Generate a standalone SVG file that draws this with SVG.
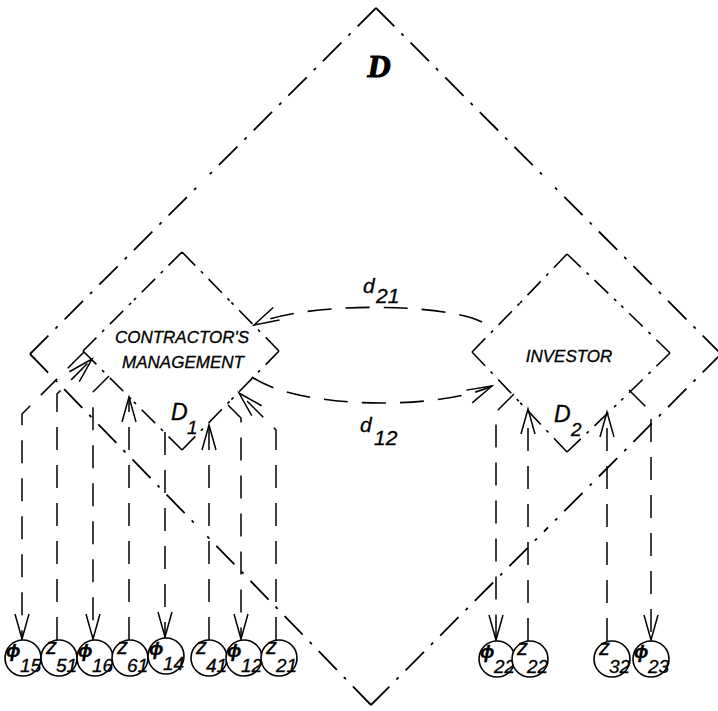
<svg xmlns="http://www.w3.org/2000/svg" width="718" height="711" viewBox="0 0 718 711">
<defs>
<style>
.big{fill:none;stroke:#000;stroke-width:1.8;stroke-dasharray:26 10 3 10;}
.dia{fill:none;stroke:#000;stroke-width:1.6;stroke-dasharray:19 8 3 8;}
.con{fill:none;stroke:#000;stroke-width:1.5;stroke-dasharray:23 15;marker-end:url(#ah);}
.cur{fill:none;stroke:#000;stroke-width:1.6;stroke-dasharray:24 14;marker-end:url(#ah);}
.nd{fill:#fff;stroke:#000;stroke-width:1.6;}
text{font-family:"Liberation Sans",Arial,"DejaVu Sans",sans-serif;font-style:italic;fill:#000;stroke:#000;stroke-width:0.3;}
.lab{font-size:17px;text-anchor:middle;}
.g{font-size:19px;font-weight:bold;}
.z{font-size:22px;}
.n{font-size:19px;}
.big-d{font-family:"Liberation Serif","Times New Roman",serif;font-weight:bold;font-size:32px;text-anchor:middle;stroke-width:1.2;}
.dl{font-size:23px;}
.ds{font-size:19px;}
.cl{font-size:21px;}
.cs{font-size:21px;}
</style>
<marker id="ah" markerUnits="userSpaceOnUse" markerWidth="30" markerHeight="20" viewBox="-30 -10 30 20" refX="0" refY="0" orient="auto" overflow="visible">
<path d="M-25,-7 L0,0 L-25,7" fill="none" stroke="#000" stroke-width="1.5" stroke-dasharray="none"/>
</marker>
</defs>
<rect x="0" y="0" width="718" height="711" fill="#fff"/>

<g id="D">
<path class="big" d="M376,8 L548.5,181 M721,354 L548.5,181 M721,354 L546,529.5 M371,705 L546,529.5 M371,705 L200.5,529.5 M30,354 L200.5,529.5 M30,354 L203,181 M376,8 L203,181"/>
<text class="big-d" x="379" y="77">D</text>
</g>

<g id="D1">
<path class="dia" d="M182,252 L230.5,301.5 M279,351 L230.5,301.5 M279,351 L230.5,400.5 M182,450 L230.5,400.5 M182,450 L132.5,400.5 M83,351 L132.5,400.5 M83,351 L132.5,301.5 M182,252 L132.5,301.5"/>
<text class="lab" x="182" y="343">CONTRACTOR'S</text>
<text class="lab" x="183" y="368">MANAGEMENT</text>
<text class="dl" x="171" y="420">D</text>
<text class="ds" x="187" y="434">1</text>
</g>

<g id="D2">
<path class="dia" d="M567,254 L619,303.5 M670,353 L619,303.5 M670,353 L619,402.5 M567,452 L619,402.5 M567,452 L520,402.5 M472,352 L520,402.5 M472,352 L520,303 M567,254 L520,303"/>
<text class="lab" x="569" y="362">INVESTOR</text>
<text class="dl" x="554" y="422">D</text>
<text class="ds" x="571" y="436">2</text>
</g>

<g id="connectors">
<path class="cur" d="M482,322 C440,302 300,302 254,325"/>
<path class="cur" d="M252,377 C300,410 440,410 492,386"/>
<path class="con" d="M84,352 L22,414 L22,639"/>
<path class="con" d="M57,640 L57,394 L92,359"/>
<path class="con" d="M109,376 L93,392 L93,639"/>
<path class="con" d="M129,640 L129,397"/>
<path class="con" d="M165,432 L165,637"/>
<path class="con" d="M209,640 L209,425"/>
<path class="con" d="M228,405 L241,418 L241,639"/>
<path class="con" d="M276,640 L276,430 L239,393"/>
<path class="con" d="M514,394 L496,412 L496,640"/>
<path class="con" d="M528,641 L528,409"/>
<path class="con" d="M607,641 L607,412"/>
<path class="con" d="M629,390 L651,412 L651,640"/>
<text class="cl" x="363" y="293">d</text>
<text class="cs" x="376" y="303">21</text>
<text class="cl" x="360" y="432">d</text>
<text class="cs" x="374" y="445">12</text>
</g>

<g id="phi15"><circle class="nd" cx="23" cy="658" r="18"/><text class="g" x="6" y="657">ϕ</text><text class="n" x="20" y="672">15</text></g>
<g id="z51"><circle class="nd" cx="59" cy="658" r="18"/><text class="z" x="46" y="654">z</text><text class="n" x="56" y="672">51</text></g>
<g id="phi16"><circle class="nd" cx="95" cy="658" r="18"/><text class="g" x="78" y="657">ϕ</text><text class="n" x="92" y="672">16</text></g>
<g id="z61"><circle class="nd" cx="130" cy="658" r="18"/><text class="z" x="117" y="654">z</text><text class="n" x="127" y="672">61</text></g>
<g id="phi14"><circle class="nd" cx="166" cy="656" r="18"/><text class="g" x="149" y="655">ϕ</text><text class="n" x="163" y="670">14</text></g>
<g id="z41"><circle class="nd" cx="209" cy="658" r="18"/><text class="z" x="196" y="654">z</text><text class="n" x="206" y="672">41</text></g>
<g id="phi12"><circle class="nd" cx="244" cy="658" r="18"/><text class="g" x="227" y="657">ϕ</text><text class="n" x="241" y="672">12</text></g>
<g id="z21"><circle class="nd" cx="279" cy="658" r="18"/><text class="z" x="266" y="654">z</text><text class="n" x="276" y="672">21</text></g>
<g id="phi22"><circle class="nd" cx="497" cy="659" r="18"/><text class="g" x="480" y="658">ϕ</text><text class="n" x="494" y="673">22</text></g>
<g id="z22"><circle class="nd" cx="530" cy="659" r="18"/><text class="z" x="517" y="655">z</text><text class="n" x="527" y="673">22</text></g>
<g id="z32"><circle class="nd" cx="612" cy="659" r="18"/><text class="z" x="599" y="655">z</text><text class="n" x="609" y="673">32</text></g>
<g id="phi23"><circle class="nd" cx="651" cy="659" r="18"/><text class="g" x="634" y="658">ϕ</text><text class="n" x="648" y="673">23</text></g>
</svg>
